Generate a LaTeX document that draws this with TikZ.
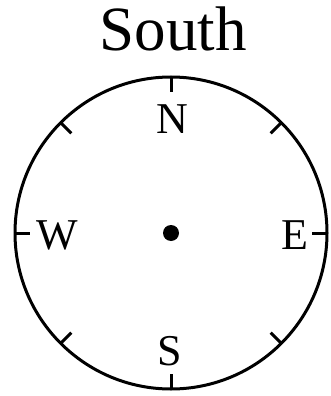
\documentclass[tikz,border=0pt]{standalone}
\usepackage{fontspec}
\setmainfont{Liberation Serif}
\usetikzlibrary{calc}
\begin{document}
\begin{tikzpicture}[x=1pt,y=-1pt,
  rim/.style={line width=3pt},
  lbl/.style={inner sep=0pt,anchor=base,font=\fontsize{44}{44}\selectfont},
  ttl/.style={inner sep=0pt,anchor=base,font=\fontsize{63}{63}\selectfont}]
\useasboundingbox (0,0) rectangle (331,396);
\coordinate (c) at (171,233);
\node[ttl] (title) at (173,51) {South};
\draw[rim] (c) circle[radius=156];
\foreach \a in {0,45,...,315}{
  \draw[rim] ($(c)+(\a:156)$) -- ($(c)+(\a:141)$);
}
\fill (c) circle[radius=8];
\node[lbl] (n) at (172,133) {N};
\node[lbl] (w) at (57,249) {W};
\node[lbl] (e) at (295,249) {E};
\node[lbl] (s) at (170,365) {S};
\end{tikzpicture}
\end{document}
